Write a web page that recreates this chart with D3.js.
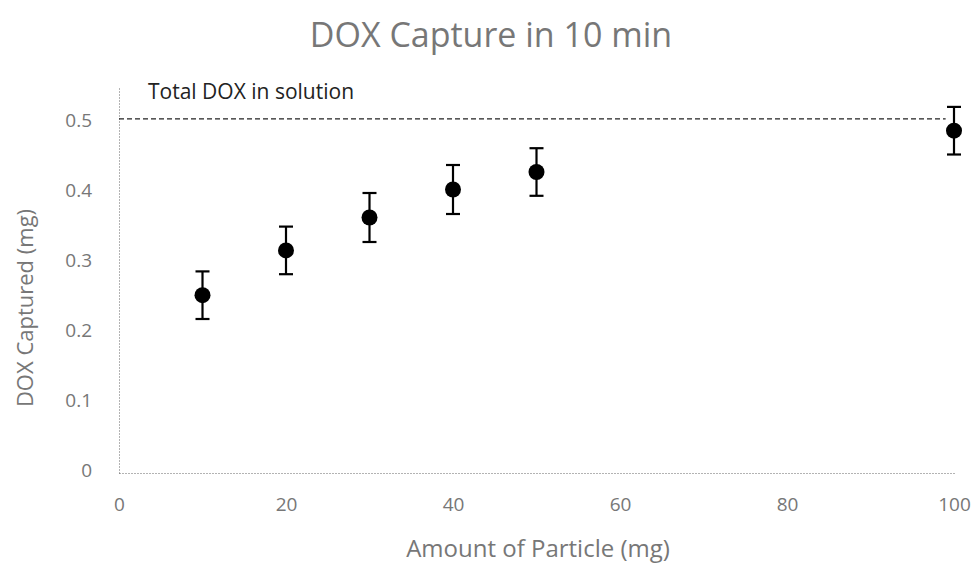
<!DOCTYPE html>
<html>
<head>
<meta charset="utf-8">
<style>
  body { margin: 0; background: #fff; }
  text { font-family: "Open Sans", sans-serif; }
  .tick text { fill: #777; font-size: 19px; }
</style>
<script src="https://cdn.jsdelivr.net/npm/d3@7"></script>
</head>
<body>
<script>
// values
var amounts  = [10, 20, 30, 40, 50, 100];
var captured = [0.254, 0.318, 0.365, 0.405, 0.430, 0.489];
var errors   = [0.034, 0.034, 0.035, 0.035, 0.034, 0.034];
var totalDox = 0.506;
var xTicks = [0, 20, 40, 60, 80, 100];
var yTicks = [0, 0.1, 0.2, 0.3, 0.4, 0.5];

var W = 979, H = 565;
var margin = {top: 88, right: 25, bottom: 92, left: 119},
    width  = 954 - margin.left,
    height = 473 - margin.top;

var svg = d3.select("body").append("svg")
    .attr("width", W).attr("height", H);

var x = d3.scaleLinear().domain([0, 100]).range([0, width]);
var y = d3.scaleLinear().domain([0, 0.55]).range([height, 0]);

var g = svg.append("g")
    .attr("transform", `translate(${margin.left},${margin.top})`);

// dotted axis lines, no ticks
var xAxis = g.append("g")
    .attr("transform", `translate(0,${height})`)
    .call(d3.axisBottom(x).tickValues(xTicks).tickSize(0).tickPadding(25).tickFormat(d3.format("d")));
var yAxis = g.append("g")
    .call(d3.axisLeft(y).tickValues(yTicks).tickSize(0).tickPadding(27)
      .tickFormat(d => d === 0 ? "0" : d3.format(".1f")(d)));
[xAxis, yAxis].forEach(a => a.select(".domain")
    .attr("stroke", "#666").attr("stroke-dasharray", "1,2"));
yAxis.selectAll(".tick text").attr("dy", "0.2em");

// total DOX reference line
g.append("line")
    .attr("x1", 0).attr("x2", x(99))
    .attr("y1", y(totalDox)).attr("y2", y(totalDox))
    .attr("stroke", "#222").attr("stroke-width", 1.3)
    .attr("stroke-dasharray", "5,3");
g.append("text")
    .attr("x", 29).attr("y", y(totalDox) - 20)
    .attr("fill", "#222").attr("font-size", 21)
    .text("Total DOX in solution");

var data = amounts.map((a, i) => ({a: a, v: captured[i], e: errors[i]}));

var pts = g.selectAll(".pt").data(data).enter().append("g").attr("class", "pt");
pts.append("line")
    .attr("x1", d => x(d.a)).attr("x2", d => x(d.a))
    .attr("y1", d => y(d.v + d.e)).attr("y2", d => y(d.v - d.e))
    .attr("stroke", "#000").attr("stroke-width", 2.2);
[1, -1].forEach(s => pts.append("line")
    .attr("x1", d => x(d.a) - 7).attr("x2", d => x(d.a) + 7)
    .attr("y1", d => y(d.v + s * d.e)).attr("y2", d => y(d.v + s * d.e))
    .attr("stroke", "#000").attr("stroke-width", 2.2));
pts.append("circle")
    .attr("cx", d => x(d.a)).attr("cy", d => y(d.v))
    .attr("r", 8).attr("fill", "#000");

// titles
svg.append("text")
    .attr("x", 491).attr("y", 47).attr("text-anchor", "middle")
    .attr("fill", "#777").attr("font-size", 34)
    .text("DOX Capture in 10 min");
svg.append("text")
    .attr("x", 538).attr("y", 557).attr("text-anchor", "middle")
    .attr("fill", "#777").attr("font-size", 24)
    .text("Amount of Particle (mg)");
svg.append("text")
    .attr("transform", "translate(33,308) rotate(-90)")
    .attr("text-anchor", "middle")
    .attr("fill", "#777").attr("font-size", 22)
    .text("DOX Captured (mg)");
</script>
</body>
</html>
